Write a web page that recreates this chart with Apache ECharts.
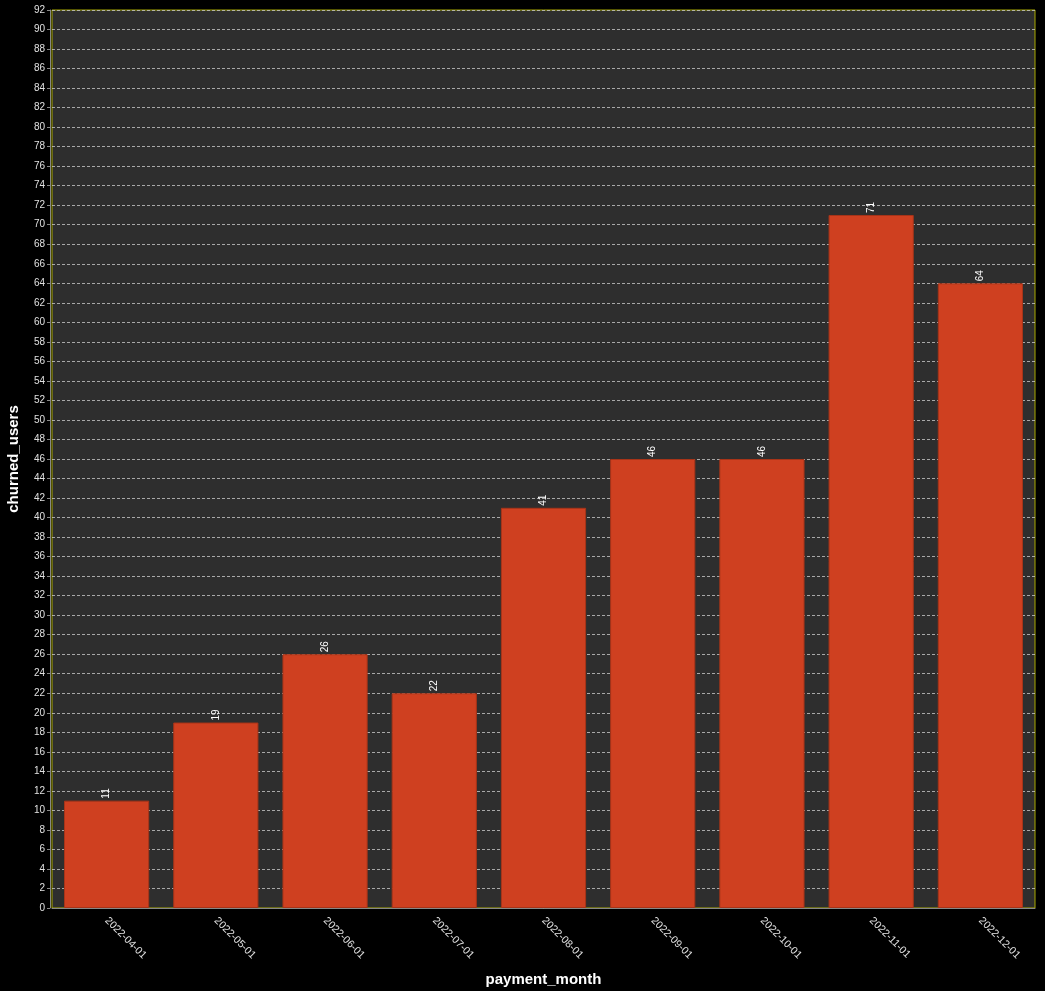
<!DOCTYPE html>
<html>
<head>
<meta charset="utf-8">
<script src="https://cdn.jsdelivr.net/npm/echarts@6/dist/echarts.min.js"></script>
<style>
html,body{margin:0;padding:0;background:#000;}
#chart{width:1045px;height:991px;}
</style>
</head>
<body>
<div id="chart"></div>
<script>
var categories = ['2022-04-01','2022-05-01','2022-06-01','2022-07-01','2022-08-01','2022-09-01','2022-10-01','2022-11-01','2022-12-01'];
var churnedUsers = [11, 19, 26, 22, 41, 46, 46, 71, 64];
var yMin = 0, yMax = 92, yInterval = 2;

var FONT = 'Liberation Sans, Arial, sans-serif';
var chart = echarts.init(document.getElementById('chart'));
chart.setOption({
  backgroundColor: '#000000',
  animation: false,
  grid: {
    left: 52, right: 10, top: 10, bottom: 83,
    containLabel: false,
    outerBoundsMode: 'none',
    show: true,
    backgroundColor: '#2e2e2e',
    borderColor: '#a8a800',
    borderWidth: 1
  },
  xAxis: {
    type: 'category',
    data: categories,
    offset: 4,
    name: 'payment_month',
    nameLocation: 'middle',
    nameGap: 60,
    nameTextStyle: { color: '#ffffff', fontSize: 15, fontWeight: 'bold', fontFamily: FONT },
    axisLine: { lineStyle: { color: '#888888', width: 1 } },
    axisTick: { alignWithLabel: true, length: 3, lineStyle: { color: '#888888' } },
    axisLabel: { rotate: -45, color: '#e0e0e0', fontSize: 10.5, fontFamily: FONT, margin: 7 },
    splitLine: { show: false }
  },
  yAxis: {
    type: 'value',
    min: yMin, max: yMax, interval: yInterval,
    offset: 2,
    name: 'churned_users',
    nameLocation: 'middle',
    nameGap: 29,
    nameTextStyle: { color: '#ffffff', fontSize: 15, fontWeight: 'bold', fontFamily: FONT },
    axisLine: { show: true, lineStyle: { color: '#888888', width: 1 } },
    axisTick: { show: true, length: 3, lineStyle: { color: '#888888' } },
    axisLabel: { color: '#e0e0e0', fontSize: 10, fontFamily: FONT, margin: 5 },
    splitLine: { show: true, lineStyle: { color: '#c8c8c8', type: [3, 2], width: 0.8 } }
  },
  series: [{
    type: 'bar',
    data: churnedUsers,
    barCategoryGap: '22%',
    itemStyle: { color: '#cf4020', borderColor: '#a83418', borderWidth: 1 },
    label: {
      show: true,
      position: 'top',
      rotate: 90,
      align: 'left',
      verticalAlign: 'middle',
      distance: 2,
      color: '#ffffff',
      fontSize: 10,
      fontFamily: FONT
    }
  }]
});
</script>
</body>
</html>
